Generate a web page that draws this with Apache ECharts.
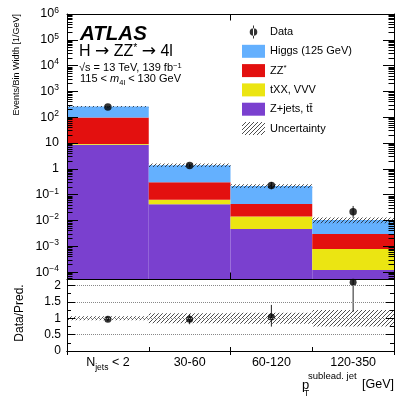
<!DOCTYPE html>
<html>
<head>
<meta charset="utf-8">
<script src="https://cdn.jsdelivr.net/npm/echarts@6/dist/echarts.min.js"></script>
<style>
  html, body { margin: 0; padding: 0; background: #fff; }
  #chart { width: 415px; height: 399px; }
</style>
</head>
<body>
<div id="chart"></div>
<script>
// bins of the subleading-jet pT distribution
const categories = ['{n|N}{sub|jets}{n| < 2}', '30-60', '60-120', '120-350'];
// stacked predictions, events / bin width (bottom to top)
const zjets = [8.5, 0.043, 0.0047, 0.00012];
const txx = [0.6, 0.020, 0.0094, 0.00067];
const zz = [89, 0.24, 0.0296, 0.0022];
const higgs = [160, 1.09, 0.175, 0.0075];
// observed data with asymmetric errors
const dataVals = [250, 1.35, 0.228, 0.022];
const dataErrLo = [16, 0.21, 0.065, 0.0094];
const dataErrHi = [16, 0.22, 0.08, 0.0145];
// relative uncertainty on total prediction
const uncRel = [0.06, 0.155, 0.165, 0.25];
// tick values
const logMajor = [1e-4, 1e-3, 1e-2, 1e-1, 1, 10, 1e2, 1e3, 1e4, 1e5, 1e6];
const ratioTicks = [0, 0.5, 1, 1.5, 2];

const logMin = 5.4e-5, logMax = 1e6;
const logMinor = [];
logMajor.concat([1e-5]).forEach(d => {
  [2, 3, 4, 5, 6, 7, 8, 9].forEach(m => {
    const v = m * d;
    if (v > logMin && v < logMax) logMinor.push(v);
  });
});

const layers = [zjets, txx, zz, higgs];
const layerNames = ['Z+jets, tt\u0304', 'tXX, VVV', 'ZZ*', 'Higgs (125 GeV)'];
const layerColors = ['#7a40cf', '#ebe512', '#e3100f', '#64b0fe'];

const total = categories.map((c, i) => layers.reduce((s, l) => s + l[i], 0));

function hatchCanvas() {
  const c = document.createElement('canvas');
  c.width = 4; c.height = 4;
  const g = c.getContext('2d');
  g.strokeStyle = '#222';
  g.lineWidth = 0.8;
  g.beginPath();
  g.moveTo(0, 4); g.lineTo(4, 0);
  g.moveTo(-1, 1); g.lineTo(1, -1);
  g.moveTo(3, 5); g.lineTo(5, 3);
  g.stroke();
  return c;
}
const hatch = { image: hatchCanvas(), repeat: 'repeat' };

// rectangle spanning a whole bin between two values
function binRect(fill) {
  return function (params, api) {
    const cs = params.coordSys;
    const w = cs.width / categories.length;
    const i = api.value(0);
    const x = api.coord([i, api.value(2)])[0] - w / 2;
    const yTop = api.coord([i, api.value(2)])[1];
    const lo = api.value(1);
    const yBot = lo > 0 ? api.coord([i, lo])[1] : cs.y + cs.height;
    return {
      type: 'rect',
      shape: { x: x, y: yTop, width: w, height: yBot - yTop },
      style: { fill: fill }
    };
  };
}

function errBar(params, api) {
  const cs = params.coordSys;
  const i = api.value(0);
  const p1 = api.coord([i, api.value(1)]);
  const p2 = api.coord([i, api.value(2)]);
  const y1 = Math.min(p1[1], cs.y + cs.height);
  const y2 = Math.max(p2[1], cs.y);
  return {
    type: 'line',
    shape: { x1: p1[0], y1: y1, x2: p2[0], y2: y2 },
    style: { stroke: '#222', lineWidth: 1 }
  };
}

const series = [];
layers.forEach((l, k) => {
  series.push({
    type: 'custom', name: layerNames[k], xAxisIndex: 0, yAxisIndex: 0, z: 2,
    itemStyle: { color: layerColors[k] },
    renderItem: binRect(layerColors[k]),
    encode: { x: 0, y: [1, 2] },
    data: categories.map((c, i) => {
      let lo = 0;
      for (let j = 0; j < k; j++) lo += layers[j][i];
      return [i, k === 0 ? 0 : lo, lo + l[i]];
    })
  });
});
series.push({
  type: 'custom', name: 'Uncertainty', xAxisIndex: 0, yAxisIndex: 0, z: 3,
  itemStyle: { color: hatch },
  renderItem: binRect(hatch),
  encode: { x: 0, y: [1, 2] },
  data: total.map((t, i) => [i, t * (1 - uncRel[i]), t * (1 + uncRel[i])])
});
series.push({
  type: 'custom', name: 'dataErr', xAxisIndex: 0, yAxisIndex: 0, z: 4,
  renderItem: errBar,
  encode: { x: 0, y: [1, 2] },
  data: dataVals.map((d, i) => [i, d - dataErrLo[i], d + dataErrHi[i]])
});
series.push({
  type: 'scatter', name: 'Data', xAxisIndex: 0, yAxisIndex: 0, z: 5,
  symbol: 'circle', symbolSize: 7.5,
  itemStyle: { color: '#000' },
  data: dataVals.map((d, i) => [i, d])
});

// ratio panel
series.push({
  type: 'custom', name: 'ratioUnc', xAxisIndex: 2, yAxisIndex: 2, z: 3,
  renderItem: binRect(hatch),
  encode: { x: 0, y: [1, 2] },
  data: uncRel.map((u, i) => [i, 1 - u, 1 + u])
});
series.push({
  type: 'custom', name: 'ratioErr', xAxisIndex: 2, yAxisIndex: 2, z: 4,
  renderItem: errBar,
  encode: { x: 0, y: [1, 2] },
  data: dataVals.map((d, i) => [i, (d - dataErrLo[i]) / total[i], (d + dataErrHi[i]) / total[i]])
});
series.push({
  type: 'scatter', name: 'Ratio', xAxisIndex: 2, yAxisIndex: 2, z: 5,
  symbol: 'circle', symbolSize: 7,
  itemStyle: { color: '#000' },
  data: dataVals.map((d, i) => [i, d / total[i]])
});

const axisLineBlack = { show: true, lineStyle: { color: '#000', width: 1 } };
const supRich = {
  b: { fontSize: 12.5, lineHeight: 16, fontFamily: 'Liberation Sans', color: '#000' },
  s: { fontSize: 8.5, lineHeight: 16, verticalAlign: 'top', fontFamily: 'Liberation Sans', color: '#000' }
};
function logLabel(v) {
  const n = Math.round(Math.log10(v));
  if (n === 0) return '{b|1}';
  if (n === 1) return '{b|10}';
  return '{b|10}{s|' + (n < 0 ? '\u2212' + (-n) : n) + '}';
}

function tickStyle(len, vals) {
  const t = { show: true, inside: true, length: len, lineStyle: { color: '#000', width: 1 } };
  if (vals) t.customValues = vals;
  return t;
}

function logAxis(pos, labels, ticks, len) {
  return {
    type: 'log', gridIndex: 0, position: pos, min: logMin, max: logMax, logBase: 10, z: 10,
    axisLine: len > 6 ? axisLineBlack : { show: false },
    axisTick: tickStyle(len, ticks),
    axisLabel: labels ? { show: true, margin: 8, formatter: logLabel, rich: supRich, customValues: logMajor } : { show: false },
    splitLine: { show: false }
  };
}

function catAxis(grid, pos, len, label) {
  return {
    type: 'category', gridIndex: grid, position: pos, data: categories, z: 10,
    axisLine: axisLineBlack, axisTick: tickStyle(len),
    axisLabel: label || { show: false }, splitLine: { show: false }
  };
}

function ratioAxis(pos, label) {
  return {
    type: 'value', gridIndex: 1, position: pos, min: 0, max: 2.2, interval: 0.5, z: 10,
    axisLine: axisLineBlack,
    axisTick: tickStyle(8),
    minorTick: { show: true, splitNumber: 2, length: 4, lineStyle: { color: '#000', width: 1 } },
    axisLabel: label || { show: false },
    splitLine: pos === 'left'
      ? { show: true, lineStyle: { color: '#888', type: 'dotted', width: 1 } }
      : { show: false }
  };
}

const option = {
  animation: false,
  backgroundColor: '#fff',
  textStyle: { fontFamily: 'Liberation Sans' },
  grid: [
    { left: 67, right: 21, top: 14, height: 265 },
    { left: 67, right: 21, top: 279, height: 72 }
  ],
  legend: {
    orient: 'vertical', left: 242, top: 25.5, padding: 0,
    itemWidth: 23, itemHeight: 13, itemGap: 6.3,
    textStyle: {
      fontSize: 11, color: '#000', fontFamily: 'Liberation Sans',
      rich: {
        a: { fontSize: 11, fontFamily: 'Liberation Sans', lineHeight: 13 },
        s: { fontSize: 8, fontFamily: 'Liberation Sans', verticalAlign: 'top', lineHeight: 13 }
      }
    },
    formatter: function (name) {
      if (name === 'ZZ*') return '{a|ZZ}{s|*}';
      return '{a|' + name + '}';
    },
    data: [
      { name: 'Data', icon: 'path://M0,0M23,13M11,0h1v13h-1zM11.5,2.7a3.8,3.8 0 1,0 0.001,0z' },
      { name: 'Higgs (125 GeV)', icon: 'rect' },
      { name: 'ZZ*', icon: 'rect' },
      { name: 'tXX, VVV', icon: 'rect' },
      { name: 'Z+jets, tt\u0304', icon: 'rect' },
      { name: 'Uncertainty', icon: 'rect' }
    ]
  },
  xAxis: [
    catAxis(0, 'bottom', 6.5),
    catAxis(0, 'top', 6.5),
    catAxis(1, 'bottom', 4, {
      show: true, interval: 0, margin: 5, color: '#000', fontSize: 12.5, fontFamily: 'Liberation Sans',
      rich: {
        n: { fontSize: 12.5, lineHeight: 14, verticalAlign: 'top', fontFamily: 'Liberation Sans', color: '#000' },
        sub: { fontSize: 8.5, lineHeight: 10, padding: [7, 0, 0, 0], verticalAlign: 'top', fontFamily: 'Liberation Sans', color: '#000' }
      }
    }),
    catAxis(1, 'top', 4)
  ],
  yAxis: [
    logAxis('left', true, logMajor, 11),
    logAxis('right', false, logMajor, 11),
    ratioAxis('left', { show: true, margin: 6, fontSize: 12, color: '#000', showMaxLabel: false,
      formatter: function (v) { return ratioTicks.indexOf(v) >= 0 ? String(v) : ''; } }),
    ratioAxis('right'),
    logAxis('left', false, logMinor, 5.5),
    logAxis('right', false, logMinor, 5.5)
  ],
  graphic: [
    { type: 'text', x: 80, y: 34, style: { text: 'ATLAS', fontSize: 20.5, fontWeight: 'bold', fontStyle: 'italic',
      fontFamily: 'Liberation Sans', fill: '#000', verticalAlign: 'middle' } },
    { type: 'text', x: 79, y: 52, style: {
      text: '{a|H }{r|\u2192}{a| ZZ}{s|*}{a| }{r|\u2192}{a| 4l}', verticalAlign: 'middle',
      rich: {
        a: { fontSize: 16, fontFamily: 'Liberation Sans', fill: '#000', lineHeight: 18 },
        r: { fontSize: 17, fontFamily: 'DejaVu Sans', fill: '#000', lineHeight: 18 },
        s: { fontSize: 10.5, fontFamily: 'Liberation Sans', fill: '#000', verticalAlign: 'top', lineHeight: 18 }
      } } },
    { type: 'text', x: 79, y: 68, style: {
      text: '{a|\u221As = 13 TeV, 139 fb}{s|\u22121}', verticalAlign: 'middle',
      rich: {
        a: { fontSize: 11, fontFamily: 'Liberation Sans', fill: '#000', lineHeight: 13 },
        s: { fontSize: 7.5, fontFamily: 'Liberation Sans', fill: '#000', verticalAlign: 'top', lineHeight: 13 }
      } } },
    { type: 'text', x: 80, y: 81, style: {
      text: '{a|115 < }{i|m}{sub|4l}{a| < 130 GeV}', verticalAlign: 'middle',
      rich: {
        a: { fontSize: 11, fontFamily: 'Liberation Sans', fill: '#000', lineHeight: 12, padding: [0, 0, 3, 0], verticalAlign: 'bottom' },
        i: { fontSize: 11, fontFamily: 'Liberation Sans', fontStyle: 'italic', fill: '#000', lineHeight: 12, padding: [0, 0, 3, 0], verticalAlign: 'bottom' },
        sub: { fontSize: 7.5, fontFamily: 'Liberation Sans', fill: '#000', lineHeight: 9, verticalAlign: 'bottom' }
      } } },
    { type: 'text', x: 17, y: 14, rotation: Math.PI / 2, style: {
      text: 'Events/Bin Width [1/GeV]', fontSize: 9, fontFamily: 'Liberation Sans', fill: '#000',
      align: 'right', verticalAlign: 'middle' } },
    { type: 'text', x: 20, y: 313, rotation: Math.PI / 2, style: {
      text: 'Data/Pred.', fontSize: 12, fontFamily: 'Liberation Sans', fill: '#000',
      align: 'center', verticalAlign: 'middle' } },
    { type: 'text', x: 302, y: 385, style: { text: 'p', fontSize: 13, fontFamily: 'Liberation Sans', fill: '#000', verticalAlign: 'middle' } },
    { type: 'text', x: 304, y: 394, style: { text: 'T', fontSize: 8.5, fontFamily: 'Liberation Sans', fill: '#000', verticalAlign: 'middle' } },
    { type: 'text', x: 308, y: 376, style: { text: 'sublead. jet', fontSize: 9.5, fontFamily: 'Liberation Sans', fill: '#000', verticalAlign: 'middle' } },
    { type: 'text', x: 394, y: 385, style: { text: '[GeV]', fontSize: 12.5, fontFamily: 'Liberation Sans', fill: '#000', align: 'right', verticalAlign: 'middle' } }
  ],
  series: series
};

const myChart = echarts.init(document.getElementById('chart'));
myChart.setOption(option);
window.addEventListener('resize', function () {
  myChart.resize();
});
</script>
</body>
</html>
